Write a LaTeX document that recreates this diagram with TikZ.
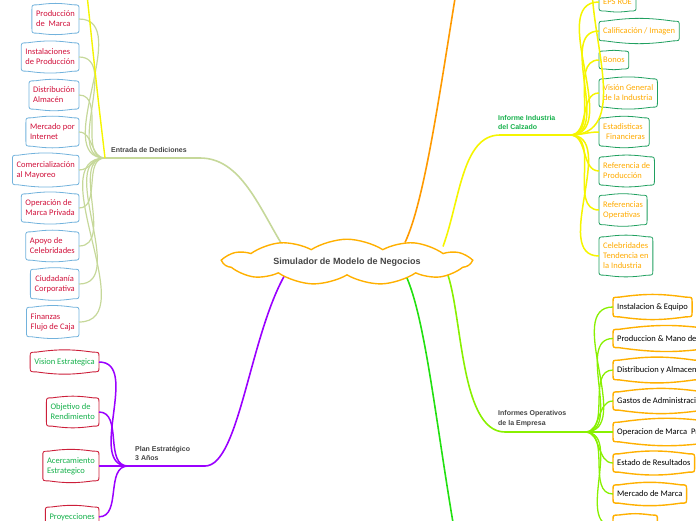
\documentclass[tikz,border=0pt]{standalone}
\usepackage{fontspec}
\setmainfont{Carlito}
\newfontfamily\headfont{Liberation Sans}
\usepackage{xcolor}
\usetikzlibrary{shapes.symbols,backgrounds,positioning}
\definecolor{olivel}{HTML}{C6D89A}
\definecolor{skyrim}{HTML}{72B2DC}
\definecolor{crim}{HTML}{D0103A}
\definecolor{purp}{HTML}{9A00FF}
\definecolor{redrim}{HTML}{CC1F3A}
\definecolor{leafgreen}{HTML}{14B04A}
\definecolor{yel}{HTML}{F5F500}
\definecolor{greenrim}{HTML}{20A060}
\definecolor{ortext}{HTML}{FFAA00}
\definecolor{orbranch}{HTML}{FF9A00}
\definecolor{lime}{HTML}{88F000}
\definecolor{brightgreen}{HTML}{22E010}
\definecolor{orrim}{HTML}{FFB000}
\definecolor{headgray}{HTML}{444444}
\newcommand\rim[2]{%
  \draw[#2] ([yshift=-5pt]#1.north west) -- ([yshift=5pt]#1.south west)
    .. controls (#1.south west) .. ([xshift=6pt]#1.south west)
    to[bend right=8] ([xshift=-6pt]#1.south east)
    .. controls (#1.south east) .. ([yshift=5pt]#1.south east)
    -- ([yshift=-5pt]#1.north east)
    .. controls (#1.north east) .. ([xshift=-6pt]#1.north east)
    to[bend right=8] ([xshift=6pt]#1.north west)
    .. controls (#1.north west) .. cycle;}
\begin{document}
\begin{tikzpicture}[x=1pt,y=-1pt,
  leaf/.style={inner xsep=4pt,inner ysep=6pt,align=left,font=\fontsize{8.5}{10}\selectfont},
  hublabel/.style={font=\headfont\bfseries\fontsize{7}{9.5}\selectfont,align=left,text=headgray,inner sep=0pt},
  branch/.style={line width=1.6pt}]
\useasboundingbox (0,0) rectangle (696,520);

\node[cloud,cloud puffs=11,cloud puff arc=65,aspect=7,draw=orrim,line width=1.4pt,fill=white,
  minimum width=246pt,minimum height=36pt,inner sep=0pt,text=headgray,
  font=\headfont\bfseries\fontsize{9}{11}\selectfont] (sim) at (347,262) {Simulador de Modelo de Negocios};

% Entrada de Dediciones
\coordinate (ed) at (105,158);
\node[hublabel,anchor=west] (edl) at (111,150) {Entrada de Dediciones};
\node[leaf,anchor=east,text=crim] (pm) at (79,19) {Producción\\de\ \ Marca};
\node[leaf,anchor=east,text=crim] (ip) at (79,57) {Instalaciones\\de Producción};
\node[leaf,anchor=east,text=crim] (da) at (79,95) {Distribución\\Almacén};
\node[leaf,anchor=east,text=crim] (mi) at (79,132) {Mercado por\\Internet};
\node[leaf,anchor=east,text=crim] (cm) at (79,170) {Comercialización\\al Mayoreo};
\node[leaf,anchor=east,text=crim] (op) at (79,208) {Operación de\\Marca Privada};
\node[leaf,anchor=east,text=crim] (ac) at (79,246) {Apoyo de\\Celebridades};
\node[leaf,anchor=east,text=crim,align=center] (cc) at (79,284) {Ciudadanía\\Corporativa};
\node[leaf,anchor=east,text=crim] (fc) at (79,322) {Finanzas\\Flujo de Caja};
\foreach \n in {pm,ip,da,mi,cm,op,ac,cc,fc}{
  \rim{\n}{skyrim,line width=0.8pt}
  \draw[olivel,line width=1.2pt] (ed) to[out=180,in=0] (\n.east);}
\coordinate (tl) at (86,-15);
\draw[yel,line width=1.4pt] (ed) .. controls (97,90) .. (tl);

% Plan Estrategico
\coordinate (ph) at (128,466);
\node[hublabel,anchor=west] (phl) at (135,453.5) {Plan Estratégico\\3 Años};
\node[leaf,anchor=east,text=leafgreen] (ve) at (99,362) {Vision Estrategica};
\node[leaf,anchor=east,text=leafgreen] (orr) at (99,412) {Objetivo de\\Rendimiento};
\node[leaf,anchor=east,text=leafgreen] (ae) at (99,466) {Acercamiento\\Estrategico};
\node[leaf,anchor=north east,text=leafgreen] (pr) at (99,507) {Proyecciones};
\foreach \n in {ve,orr,ae,pr}{
  \rim{\n}{redrim,line width=0.9pt}
  \draw[purp,line width=1.5pt] (ph) to[out=180,in=0] (\n.east);}

% Informe Industria del Calzado
\coordinate (ih) at (570,135);
\node[hublabel,anchor=west,text=leafgreen] (ihl) at (498,122.5) {Informe Industria\\del Calzado};
\node[leaf,anchor=west,text=ortext] (eps) at (599,2) {EPS ROE};
\node[leaf,anchor=west,text=ortext] (ci) at (599,31) {Calificación / Imagen};
\node[leaf,anchor=west,text=ortext] (bo) at (599,60) {Bonos};
\node[leaf,anchor=west,text=ortext] (vg) at (599,93) {Visión General\\de la Industria};
\node[leaf,anchor=west,text=ortext] (ef) at (599,132) {Estadisticas\\\hspace{3pt}Financieras};
\node[leaf,anchor=west,text=ortext] (rp) at (599,171) {Referencia de\\Producción};
\node[leaf,anchor=west,text=ortext] (ro) at (599,210) {Referencias\\Operativas};
\node[leaf,anchor=west,text=ortext] (ct) at (599,256) {Celebridades\\Tendencia en\\la Industria};
\foreach \n in {eps,ci,bo,vg,ef,rp,ro,ct}{
  \rim{\n}{greenrim,line width=0.8pt}
  \draw[yel,line width=1.5pt] (ih) to[out=0,in=180] (\n.west);}
\coordinate (tr) at (592,-15);
\draw[yel,line width=1.5pt] (ih) to[out=0,in=-90] (tr);

% Informes Operativos de la Empresa
\coordinate (oh) at (585,432);
\node[hublabel,anchor=west] (ohl) at (498,418.5) {Informes Operativos\\de la Empresa};
\node[leaf,anchor=west] (ieq) at (613,307) {Instalacion \& Equipo};
\node[leaf,anchor=west] (pmo) at (613,338.5) {Produccion \& Mano de Obra};
\node[leaf,anchor=west] (dya) at (613,370) {Distribucion y Almacen};
\node[leaf,anchor=west] (gad) at (613,401) {Gastos de Administracion};
\node[leaf,anchor=west] (omp) at (613,432) {Operacion de Marca\ \ Privada};
\node[leaf,anchor=west] (edr) at (613,463) {Estado de Resultados};
\node[leaf,anchor=west] (mdm) at (613,494) {Mercado de Marca};
\node[leaf,anchor=north west,minimum width=44pt,minimum height=21pt] (ext) at (613,515) {};
\foreach \n in {ieq,pmo,dya,gad,omp,edr,mdm,ext}{
  \rim{\n}{orrim,line width=1.4pt}
  \draw[lime,line width=1.3pt] (oh) to[out=0,in=180] (\n.west);}

\begin{scope}[on background layer]
\draw[olivel,branch] (ed) -- (200,158) .. controls (240,158) and (258,205) .. ([xshift=-65pt,yshift=-6pt]sim.north);
\coordinate (top) at (458,-20);
\draw[orbranch,branch] ([xshift=58pt,yshift=-4pt]sim.north) .. controls (425,200) and (440,90) .. (top);
\draw[yel,branch] ([xshift=96pt,yshift=-8pt]sim.north) .. controls (460,200) and (462,135) .. (500,135) -- (ih);
\draw[purp,branch] (ph) -- (205,466) .. controls (240,466) and (250,330) .. ([xshift=-59pt,yshift=6pt]sim.south);
\coordinate (bot) at (456,540);
\draw[brightgreen,branch] ([xshift=56pt,yshift=6pt]sim.south) .. controls (425,310) and (435,420) .. (bot);
\draw[lime,branch] ([xshift=98pt,yshift=8pt]sim.south) .. controls (463,305) and (458,432) .. (505,432) -- (oh);
\end{scope}
\end{tikzpicture}
\end{document}
